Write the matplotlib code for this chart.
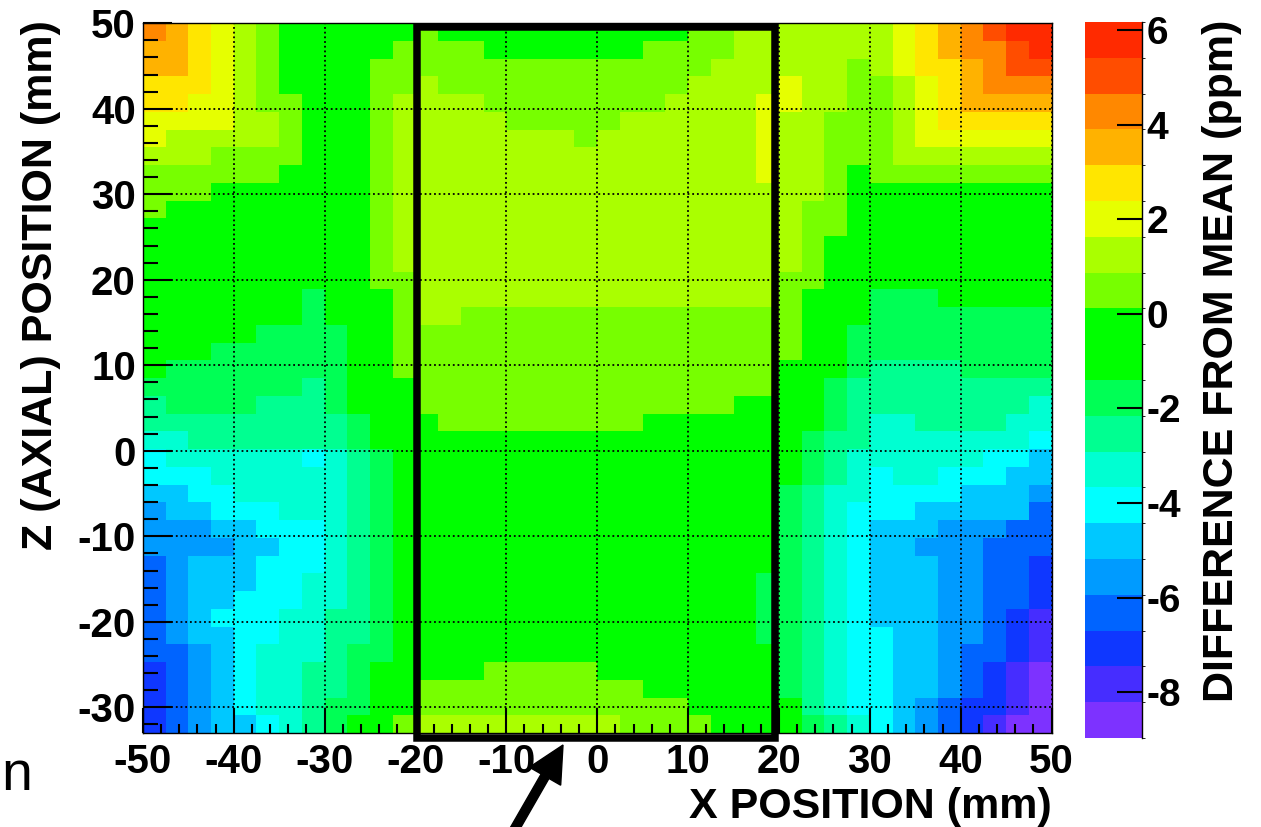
import numpy as np
import matplotlib.pyplot as plt
from matplotlib.colors import ListedColormap, BoundaryNorm
from matplotlib.patches import Rectangle, FancyArrow
from matplotlib.ticker import MultipleLocator
from matplotlib.transforms import IdentityTransform

plt.rcParams['font.family'] = ['Liberation Sans', 'DejaVu Sans']
plt.rcParams['font.weight'] = 'bold'
plt.rcParams['axes.unicode_minus'] = False

# map binning (mm)
x_edges = np.linspace(-50, 50, 41)
z_edges = np.linspace(-33, 50, 41)

# 20 equal colour bands (ppm)
z_lo, z_hi = -8.97, 6.17
band_edges = np.linspace(z_lo, z_hi, 21)
band_colors = [
    '#7d32ff', '#462dff', '#0f37ff', '#0064ff', '#009bff',
    '#00c8ff', '#00ffff', '#00ffd2', '#00ff91', '#00ff55',
    '#00ff00', '#00ff00', '#77ff00', '#aaff00', '#e6ff00',
    '#ffe600', '#ffb200', '#ff8800', '#ff4d00', '#ff2a00',
]
cbar_ticks = [-8, -6, -4, -2, 0, 2, 4, 6]

# band index of every cell, top row (z = 50) first, columns x = -50..50
# 0-9 then A-J for bands 10-19
band_rows = [
    "HGFEDCAAAA AACAAAAAAA AAAACCDDDD DDDEFGHIJJ",
    "GGFEDCAAAA ACCCCAAAAA AACCCCDDDD DDDEFGHHIJ",
    "GGFEDCAAAA CCCCCCCCCC CCCCCDDDDD DCDEFFGHII",
    "FFFEDCAAAA CCDCCCCCCC CCCCDDDDED DCCDEFGHHH",
    "FFEEDCCAAA CDDDDCCCCC CCCDDDDEED DCCDEFGGGG",
    "EEEEDDCAAA CDDDDDCCCC CDDDDDDEDD CCCDEFFFFF",
    "EDDDDDCAAA CDDDDDDDDC DDDDDDDEDD CCCDEEEEEE",
    "DDDCCCCAAA CDDDDDDDDD DDDDDDDEDD CCCDDDDDDD",
    "CCCCCCAAAA CDDDDDDDDD DDDDDDDEDD CACCCCCCCC",
    "CCCAAAAAAA CDDDDDDDDD DDDDDDDDDD CAAAAAAAAA",
    "CAAAAAAAAA CDDDDDDDDD DDDDDDDDDC CAAAAAAAAA",
    "AAAAAAAAAA CDDDDDDDDD DDDDDDDDDC CAAAAAAAAA",
    "AAAAAAAAAA CDDDDDDDDD DDDDDDDDDC AAAAAAAAAA",
    "AAAAAAAAAA CDDDDDDDDD DDDDDDDDDC AAAAAAAAAA",
    "AAAAAAAAAA CCDDDDDDDD DDDDDDDDCC AAAAAAAAAA",
    "AAAAAAA9AA ACDDDDDDDD DDDDDDDDCA AA999AAAAA",
    "AAAAAAA9AA ACDDCCCCCC CCCCCCCCCA AA99999999",
    "AAAAA9999A ACCCCCCCCC CCCCCCCCCA A999999999",
    "AAA999999A ACCCCCCCCC CCCCCCCCCA A999999999",
    "A99999999A ACCCCCCCCC CCCCCCCCAA A988889999",
    "999999989A AACCCCCCCC CCCCCCCCAA 9888888888",
    "899998889A AACCCCCCCC CCCCCCAAAA 9888888887",
    "8888888889 AAACCCCCCC CCAAAAAAAA 9877888877",
    "7788888889 AAAAAAAAAA AAAAAAAAA9 8877777776",
    "6777777678 9AAAAAAAAA AAAAAAAAA9 8777777665",
    "6667777778 9AAAAAAAAA AAAAAAAAA9 8767766655",
    "5566777778 9AAAAAAAAA AAAAAAAA98 7766665554",
    "4556667778 9AAAAAAAAA AAAAAAAA98 7666555553",
    "4445566678 9AAAAAAAAA AAAAAAAA98 7655544433",
    "4444556678 9AAAAAAAAA AAAAAAAA98 7655444333",
    "3455566678 9AAAAAAAAA AAAAAAAA98 7655544332",
    "3455566778 9AAAAAAAAA AAAAAAA998 7655544332",
    "3455666778 9AAAAAAAAA AAAAAAA998 7655544332",
    "3456667788 9AAAAAAAAA AAAAAAA998 7655544321",
    "3455667788 9AAAAAAAAA AAAAAAA998 7665544321",
    "3345677789 9AAAAAAAAA AAAAAAAA98 7665543321",
    "2345677889 AAAAACCCCC AAAAAAAA98 7665543210",
    "2345677889 AACCCCCCCC CCAAAAAA98 7665543210",
    "2345677899 AACCCCCCCC CCCCAAAAA8 7665432210",
    "234556789A ACDDDDDDDD DCCCCAAAA9 8765432100",
]

codes = "0123456789ABCDEFGHIJ"
band_idx = np.array([[codes.index(c) for c in r.replace(" ", "")]
                     for r in band_rows])[::-1]
band_mid = 0.5 * (band_edges[:-1] + band_edges[1:])
diff_ppm = band_mid[band_idx]

W, H = 1261, 827
fig = plt.figure(figsize=(W / 100, H / 100), dpi=100)
ax = fig.add_axes([142.8 / W, 1 - 733 / H, 908.8 / W, (733 - 23.2) / H])

cmap = ListedColormap(band_colors)
norm = BoundaryNorm(band_edges, cmap.N)
mesh = ax.pcolormesh(x_edges, z_edges, diff_ppm, cmap=cmap, norm=norm)

ax.set_xlim(-50, 50)
ax.set_ylim(-33, 50)
ax.set_xticks(np.arange(-50, 51, 10))
ax.set_yticks(np.arange(-30, 51, 10))
ax.xaxis.set_minor_locator(MultipleLocator(2))
ax.yaxis.set_minor_locator(MultipleLocator(2))
ax.tick_params(axis='both', which='both', direction='in', width=1.5,
               labelsize=29)
ax.tick_params(axis='x', which='major', length=18, pad=7)
ax.tick_params(axis='x', which='minor', length=6.5)
ax.tick_params(axis='y', which='major', length=21, pad=5)
ax.tick_params(axis='y', which='minor', length=11)
for sp in ax.spines.values():
    sp.set_linewidth(1)
ax.grid(which='major', color='black', linestyle=(0, (1, 1.6)), linewidth=1.3)

# fiducial region box
ax.add_patch(Rectangle((-19.8, -33.6), 39.4, 83.15, fill=False, ec='black',
                       lw=5.4, clip_on=False, zorder=6, joinstyle='miter'))

# colour scale
cax = fig.add_axes([1085 / W, 1 - 738 / H, 57 / W, (738 - 22) / H])
cb = fig.colorbar(mesh, cax=cax, ticks=cbar_ticks)
cb.outline.set_visible(False)
cax.plot([1, 1], [0, 1], transform=cax.transAxes, color='black', lw=1,
         clip_on=False)
cax.tick_params(direction='in', length=18, width=1.5, labelsize=28, pad=3)

fig.text(41 / W, 1 - 20 / H, 'Z (AXIAL) POSITION (mm)', rotation=90,
         ha='center', va='top', fontsize=31)
fig.text(1052 / W, 1 - 818 / H, 'X POSITION (mm)', ha='right',
         va='baseline', fontsize=31)
fig.text(1222 / W, 1 - 20 / H, 'DIFFERENCE FROM MEAN (ppm)', rotation=90,
         ha='center', va='top', fontsize=31)

# stray text from the neighbouring panel
fig.text(1 / W, 1 - 790 / H, 'n', fontsize=40, fontweight='normal',
         ha='left', va='baseline')

arrow = FancyArrow(513, -5, 50, 87, width=9, head_width=36, head_length=36,
                   length_includes_head=True, color='black',
                   transform=IdentityTransform(), zorder=10)
fig.add_artist(arrow)

fig.savefig('out.png', dpi=100)
